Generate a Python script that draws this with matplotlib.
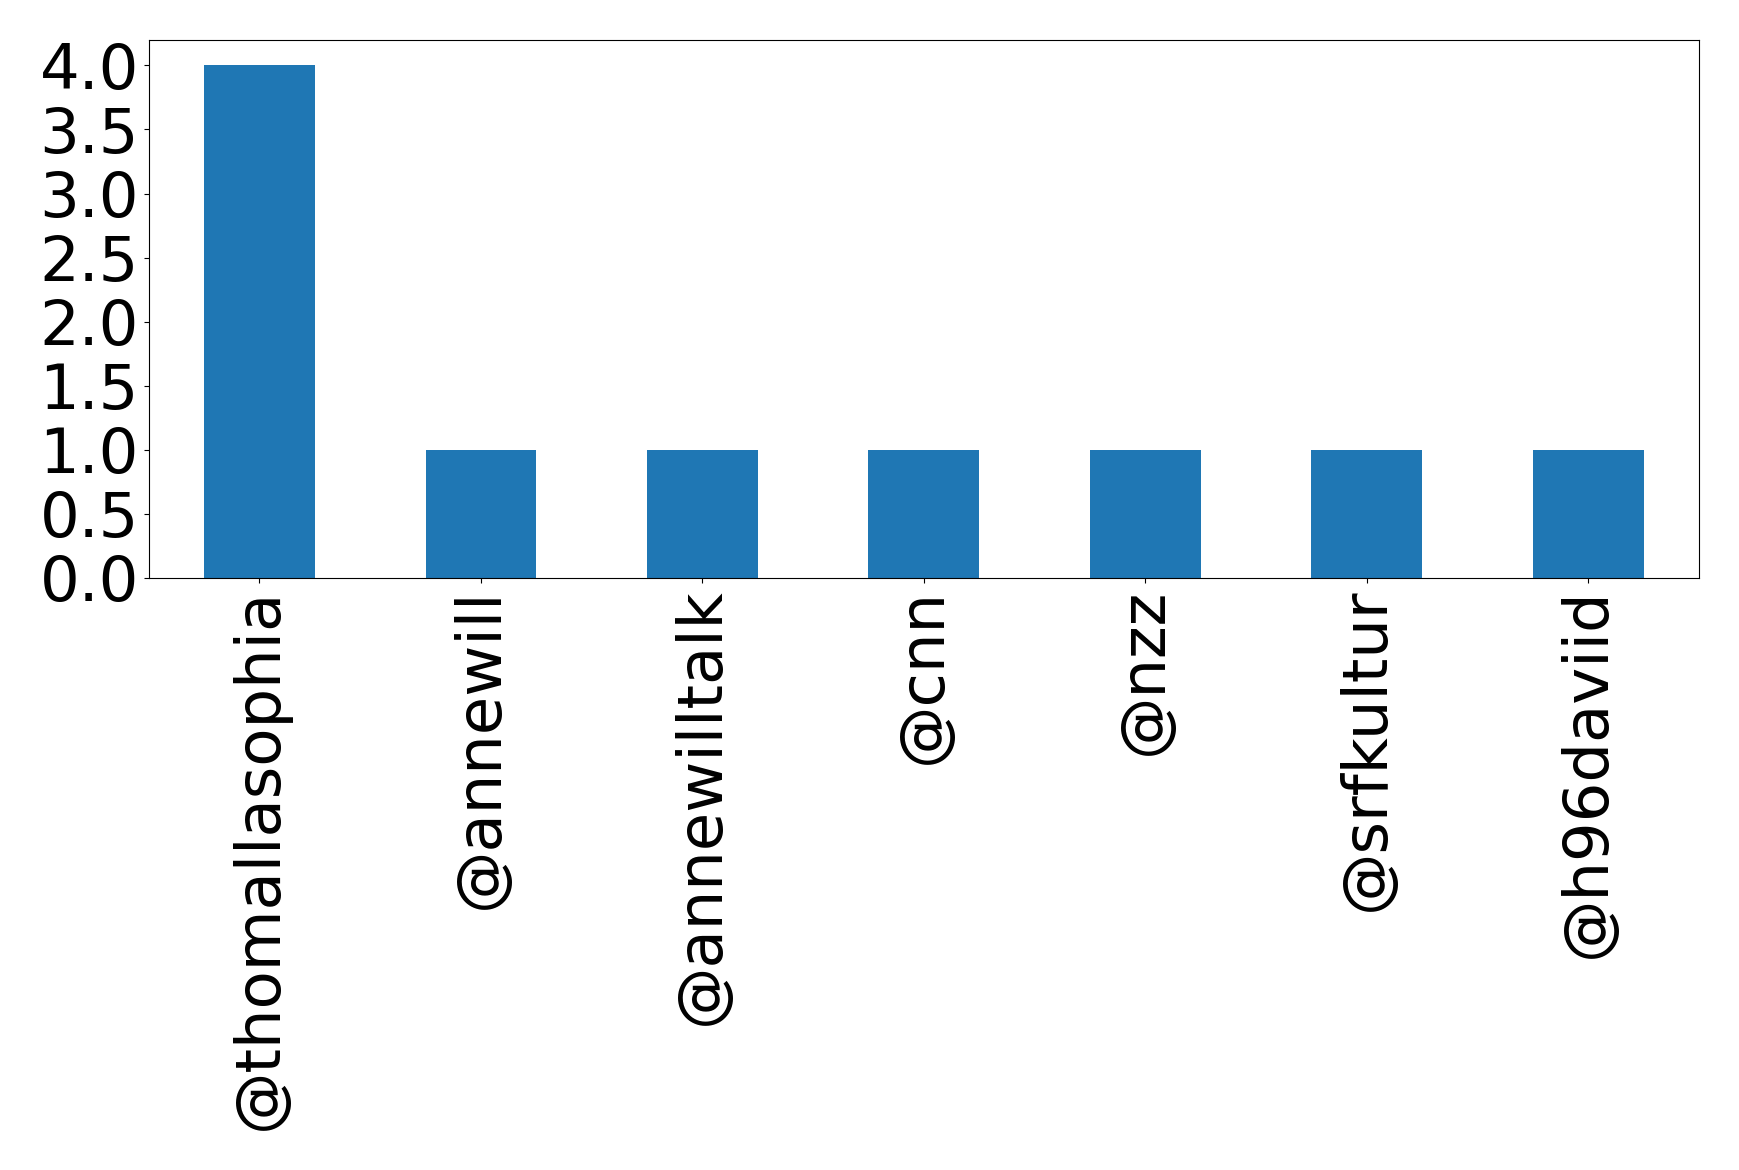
import matplotlib

matplotlib.use("Agg")
import matplotlib.pyplot as plt
import numpy as np

usuarios = ["@thomallasophia", "@annewill", "@annewilltalk", "@cnn", "@nzz", "@srfkultur", "@h96daviid"]
mencoes = [4, 1, 1, 1, 1, 1, 1]

fig = plt.figure(figsize=(17.39, 11.70), dpi=100)
ax = fig.add_axes([0.0855, 0.506, 0.8915, 0.46])
x = np.arange(len(usuarios))
ax.bar(x, mencoes, width=0.5, color="#1f77b4")
ax.set_xlim(-0.5, len(usuarios) - 0.5)
ax.set_ylim(0, max(mencoes) * 1.05)
ax.set_xticks(x)
ax.set_xticklabels(usuarios, rotation=90)
ax.set_yticks(np.arange(0, 4.01, 0.5))
ax.tick_params(labelsize=45)
fig.savefig("out.png")
